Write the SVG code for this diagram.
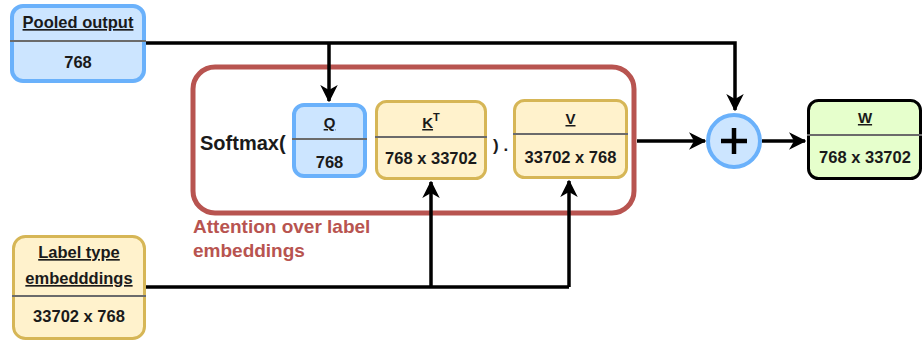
<svg xmlns="http://www.w3.org/2000/svg" width="923" height="341" viewBox="0 0 923 341">
<defs>
<style>
.t{font-family:"Liberation Sans",Arial,sans-serif;font-weight:bold;font-size:16.5px;fill:#1a1a1a;text-anchor:middle}
.u{text-decoration:underline}
.blue{fill:#cce5ff;stroke:#6ab1fb;stroke-width:4}
.yel{fill:#fff2cc;stroke:#d6b656;stroke-width:3}
.grn{fill:#e6ffcc;stroke:#000;stroke-width:3}
.div{stroke:#6b6b6b;stroke-width:2}
.con{fill:none;stroke:#000;stroke-width:3.5}
.red{fill:#b85450;font-family:"Liberation Sans",Arial,sans-serif;font-weight:bold;font-size:19px}
</style>
<marker id="ah" viewBox="0 0 12 12" refX="11" refY="6" markerWidth="5" markerHeight="5" orient="auto" markerUnits="strokeWidth">
<path d="M0,0 L12,6 L0,12 L3.5,6 z" fill="#000"/>
</marker>
</defs>

<g id="attention">
<rect x="193" y="67" width="441" height="146" rx="22" fill="none" stroke="#b85450" stroke-width="5"/>
<text class="red" x="193" y="233">Attention over label</text>
<text class="red" x="193" y="257">embeddings</text>
<text x="200" y="150" style="font-family:'Liberation Sans',Arial,sans-serif;font-weight:bold;font-size:20px;fill:#1a1a1a">Softmax(</text>
<text x="493" y="151" style="font-family:'Liberation Sans',Arial,sans-serif;font-weight:bold;font-size:17px;fill:#1a1a1a">) .</text>
</g>

<g id="connectors">
<path class="con" d="M146,43 H735 V110" marker-end="url(#ah)"/>
<path class="con" d="M329,43 V101" marker-end="url(#ah)"/>
<path class="con" d="M146,287 H569"/>
<path class="con" d="M431,287 V182" marker-end="url(#ah)"/>
<path class="con" d="M569,287 V181" marker-end="url(#ah)"/>
<path class="con" d="M637,141 H705" marker-end="url(#ah)"/>
<path class="con" d="M762,141 H805" marker-end="url(#ah)"/>
</g>

<g id="pooled">
<rect class="blue" x="12" y="6" width="132" height="75" rx="11"/>
<line class="div" x1="10" y1="41" x2="146" y2="41"/>
<text class="t u" x="78" y="28">Pooled output</text>
<text class="t" x="78" y="68">768</text>
</g>

<g id="q">
<rect class="blue" x="294" y="105" width="71" height="71" rx="10"/>
<line class="div" x1="292" y1="139" x2="367" y2="139"/>
<text class="t u" x="329.5" y="128" style="font-size:15px">Q</text>
<text class="t" x="329.5" y="168">768</text>
</g>

<g id="kt">
<rect class="yel" x="376.5" y="101.5" width="109" height="77" rx="10"/>
<line class="div" x1="375" y1="137" x2="487" y2="137"/>
<text class="t" x="431" y="128" style="font-size:15px"><tspan class="u">K</tspan><tspan dy="-7" style="font-size:11px">T</tspan></text>
<text class="t" x="431" y="164">768 x 33702</text>
</g>

<g id="v">
<rect class="yel" x="514.5" y="100.5" width="112" height="77" rx="10"/>
<line class="div" x1="513" y1="134" x2="628" y2="134"/>
<text class="t u" x="570.5" y="124" style="font-size:15px">V</text>
<text class="t" x="570.5" y="163">33702 x 768</text>
</g>

<g id="plus">
<circle cx="734" cy="141" r="26" fill="#cce5ff" stroke="#6ab1fb" stroke-width="4"/>
<path d="M721,141 H747 M734,128 V154" stroke="#000" stroke-width="4.5"/>
</g>

<g id="w">
<rect class="grn" x="808.5" y="100.5" width="112" height="78" rx="10"/>
<line class="div" x1="807" y1="135" x2="922" y2="135"/>
<text class="t u" x="865" y="123" style="font-size:15px">W</text>
<text class="t" x="865" y="163">768 x 33702</text>
</g>

<g id="label">
<rect class="yel" x="13.5" y="236.5" width="131" height="102" rx="12"/>
<line class="div" x1="12" y1="296" x2="146" y2="296"/>
<text class="t u" x="79" y="258">Label type</text>
<text class="t u" x="79" y="284">embedddings</text>
<text class="t" x="79" y="322">33702 x 768</text>
</g>
</svg>
